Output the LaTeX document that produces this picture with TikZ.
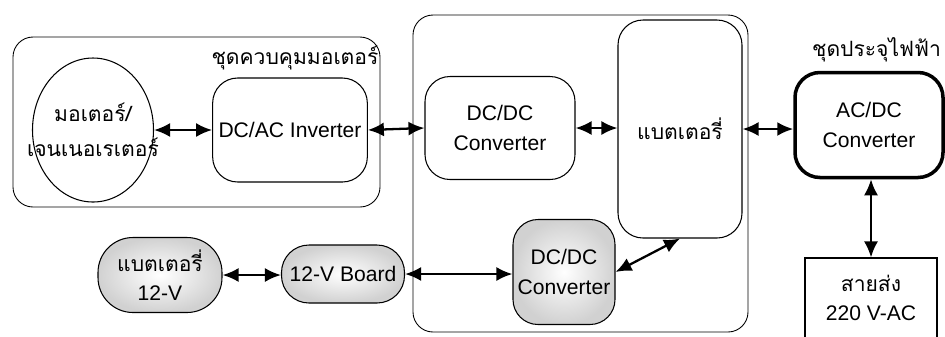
\documentclass[tikz,border=0pt]{standalone}
\usepackage{fontspec}
\setmainfont{Liberation Sans}
\newfontfamily\thaifont[Script=Thai]{Loma}
\usepackage{tikz}
\usetikzlibrary{positioning,shapes.geometric,arrows.meta,calc}

\begin{document}
\begin{tikzpicture}[x=0.2mm,y=-0.2mm,
    every node/.style={font=\fontsize{12}{14}\selectfont, align=center},
    blocco/.style={draw, line width=0.6pt, rounded corners=5mm},
    ombra/.style={blocco, shade, inner color=white, outer color=black!18},
    gruppo/.style={draw, line width=0.5pt, rounded corners=4mm},
    freccia/.style={{Latex[length=3.2mm,width=2.8mm]}-{Latex[length=3.2mm,width=2.8mm]}, line width=1.3pt}]
    % Area del disegno
    \clip (0,0) rectangle (945,336);
    \fill[white] (0,0) rectangle (945,336);
    % Disegna i riquadri dei gruppi
    \draw[gruppo] (13,37) rectangle (380,207);
    \draw[gruppo] (413,15) rectangle (748,332);
    \node (lblmotore) at (295,58) {\thaifont ชุดควบคุมมอเตอร์};
    \node[anchor=east, inner sep=1pt] (lblcarica) at (943,50) {\thaifont ชุดประจุไฟฟ้า};
    % Disegna i blocchi
    \node[draw, ellipse, line width=0.6pt, minimum width=24.2mm, minimum height=28.8mm] (motore) at (93,130) {};
    \node (testomotore) at (motore.center) {\thaifont มอเตอร์/\\[2mm]\thaifont เจนเนอเรเตอร์};
    \node[blocco, minimum width=30.8mm, minimum height=20.8mm] (inverter) at (290,130) {DC/AC Inverter};
    \node[blocco, minimum width=30mm, minimum height=20.6mm] (dcdcA) at (500,128) {DC/DC\\[1mm]Converter};
    \node[blocco, minimum width=24.8mm, minimum height=43.6mm] (batteria) at (680,129) {\thaifont แบตเตอรี่};
    \node[ombra, minimum width=20.4mm, minimum height=21mm, inner sep=1pt] (dcdcB) at (564,272) {DC/DC\\[1mm]Converter};
    \node[ombra, rounded corners=7mm, minimum width=24.8mm, minimum height=15mm] (batt12) at (160,275) {\thaifont แบตเตอรี่\\[1mm]12-V};
    \node[ombra, rounded corners=5.5mm, minimum width=24.6mm, minimum height=11.6mm, inner sep=1pt] (scheda) at (343,274) {12-V Board};
    \node[blocco, line width=2pt, minimum width=29.6mm, minimum height=21mm] (acdc) at (869,125) {AC/DC\\[1mm]Converter};
    \node[draw, line width=0.6pt, minimum width=26.4mm, minimum height=16mm] (rete) at (871,298) {\thaifont สายส่ง\\[1mm]220 V-AC};
    % Disegna le frecce
    \draw[freccia] (motore.east) -- (inverter.west);
    \draw[freccia] (inverter.east) -- (dcdcA.west);
    \draw[freccia] (dcdcA.east) -- (dcdcA.east -| batteria.west);
    \draw[freccia] (batteria.east) -- (batteria.east -| acdc.west);
    \draw[freccia] (acdc.south -| rete.north) -- (rete.north);
    \draw[freccia] (batt12.east) -- (batt12.east -| scheda.west);
    \draw[freccia] (scheda.east) -- (scheda.east -| dcdcB.west);
    \draw[freccia] (dcdcB.east) -- (batteria.south);
\end{tikzpicture}
\end{document}
